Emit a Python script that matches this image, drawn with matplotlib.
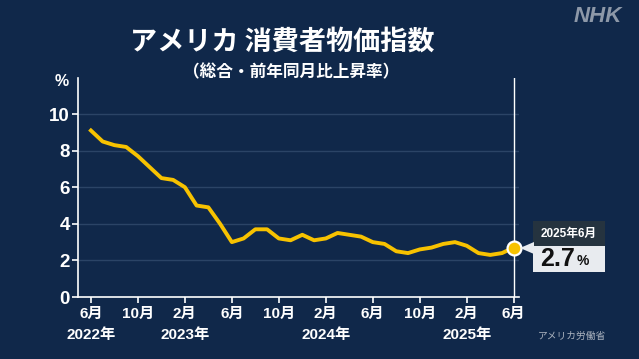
import matplotlib
matplotlib.use("Agg")
import matplotlib.pyplot as plt
from matplotlib.patches import Rectangle, Polygon

# Data: US CPI, YoY %, Jun 2022 - Jun 2025
months = list(range(37))
cpi = [9.1, 8.5, 8.3, 8.2, 7.7, 7.1, 6.5,
       6.4, 6.0, 5.0, 4.9, 4.0, 3.0, 3.2, 3.7, 3.7, 3.2, 3.1, 3.4,
       3.1, 3.2, 3.5, 3.4, 3.3, 3.0, 2.9, 2.5, 2.4, 2.6, 2.7, 2.9,
       3.0, 2.8, 2.4, 2.3, 2.4, 2.7]
tick_pos = [0, 4, 8, 12, 16, 20, 24, 28, 32, 36]
tick_month = ["6月", "10月", "2月", "6月", "10月", "2月", "6月", "10月", "2月", "6月"]
year_pos = [0, 8, 20, 32]
year_lab = ["2022年", "2023年", "2024年", "2025年"]
yticks = [0, 2, 4, 6, 8, 10]
last_label = "2025年6月"
last_value = "2.7"

BG = "#10284a"
GRID = "#2b4466"
YEL = "#f7c200"
FONT = ["Liberation Sans", "Noto Sans CJK JP"]
JP = ["Noto Sans CJK JP"]

W, H = 639, 359
fig = plt.figure(figsize=(W / 100, H / 100), dpi=100)
fig.patch.set_facecolor(BG)

def fx(px):
    return px / W

def fy(py):
    return 1 - py / H

ax_l, ax_r, ax_t, ax_b = 78, 519, 78, 297
ax = fig.add_axes([fx(ax_l), fy(ax_b), (ax_r - ax_l) / W, (ax_b - ax_t) / H])
ax.set_facecolor(BG)
ax.set_xlim(-1.1, 36.45)
ax.set_ylim(0, 11.97)

for v in yticks[1:]:
    ax.axhline(v, color=GRID, lw=1.0, zorder=1)

ax.plot(months, cpi, color=YEL, lw=2.8, zorder=3, solid_joinstyle="round")
ax.axvline(months[-1], color="white", lw=1.0, zorder=2)
ax.plot([months[-1]], [cpi[-1]], marker="o", ms=10, mfc=YEL, mec="white",
        mew=1.6, zorder=5, clip_on=False)

for s in ["top", "right"]:
    ax.spines[s].set_visible(False)
for s in ["left", "bottom"]:
    ax.spines[s].set_color("white")
    ax.spines[s].set_linewidth(1.2)

ax.set_yticks(yticks)
ax.set_yticklabels([str(v) for v in yticks], fontfamily=FONT,
                   fontweight="bold", fontsize=13.5, color="white")
ax.tick_params(axis="y", colors="white", length=4, width=1.2, pad=2)
ax.set_xticks(tick_pos)
ax.set_xticklabels(tick_month, fontfamily=FONT, fontweight="bold",
                   fontsize=11, color="white")
ax.tick_params(axis="x", colors="white", length=4, width=1.2, pad=3)

for p, lab in zip(year_pos, year_lab):
    ax.annotate(lab, xy=(p, 0), xycoords=("data", "axes fraction"),
                xytext=(0, -27), textcoords="offset points", ha="center",
                va="center", fontfamily=FONT, fontweight="bold",
                fontsize=11, color="white")

# Titles
fig.text(fx(282), fy(42), "アメリカ 消費者物価指数", ha="center", va="center",
         fontfamily=JP, fontweight="bold", fontsize=19.5, color="white")
fig.text(fx(291), fy(72), "（総合・前年同月比上昇率）", ha="center", va="center",
         fontfamily=JP, fontweight="bold", fontsize=12, color="white")
fig.text(fx(62), fy(82), "%", ha="center", va="center", fontfamily=FONT,
         fontweight="bold", fontsize=11.5, color="white")
fig.text(fx(598), fy(17), "NHK", ha="center", va="center", fontfamily=FONT,
         fontweight="bold", fontstyle="italic", fontsize=16, color="#8d98a8")
fig.text(fx(572), fy(336), "アメリカ労働省", ha="center", va="center",
         fontfamily=JP, fontsize=7, color="#aab2be")

# Callout box
bl, br, bt, bm, bb = 533, 605, 221, 246, 272
fig.patches.append(Rectangle((fx(bl), fy(bm)), (br - bl) / W, (bm - bt) / H,
                             transform=fig.transFigure, facecolor="#25333f",
                             edgecolor="none", zorder=10))
fig.patches.append(Rectangle((fx(bl), fy(bb)), (br - bl) / W, (bb - bm) / H,
                             transform=fig.transFigure, facecolor="#e8ebef",
                             edgecolor="none", zorder=10))
fig.patches.append(Polygon([(fx(520), fy(248)), (fx(534), fy(242)),
                            (fx(534), fy(254))], closed=True,
                           transform=fig.transFigure, facecolor="#e8ebef",
                           edgecolor="none", zorder=10))
fig.text(fx(569), fy(233.5), last_label, ha="center", va="center",
         fontfamily=FONT, fontweight="bold", fontsize=8.5, color="white",
         zorder=11)
fig.text(fx(540), fy(259.5), last_value, ha="left", va="center",
         fontfamily=FONT, fontweight="bold", fontsize=18, color="#111111",
         zorder=11)
fig.text(fx(577), fy(261), "%", ha="left", va="center", fontfamily=FONT,
         fontweight="bold", fontsize=10, color="#111111", zorder=11)

fig.savefig("out.png", dpi=100, facecolor=BG)
